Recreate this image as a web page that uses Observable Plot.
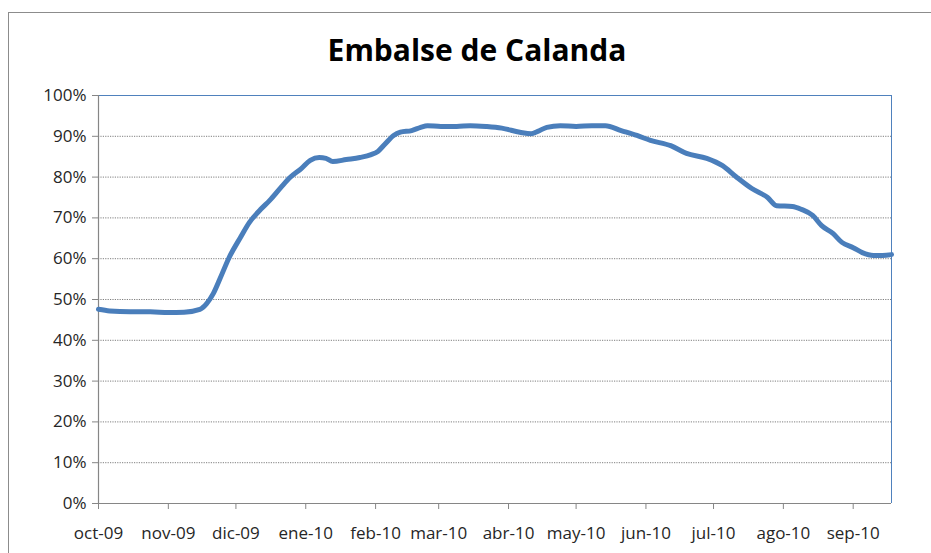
<!DOCTYPE html>
<html><head><meta charset="utf-8">
<script src="https://cdn.jsdelivr.net/npm/d3@7"></script>
<script src="https://cdn.jsdelivr.net/npm/@observablehq/plot@0.6"></script>
<style>
body{margin:0;background:#fff;}
#wrap{position:relative;width:931px;height:553px;overflow:hidden;font-family:"Open Sans",sans-serif;}
#border{position:absolute;left:8px;top:12px;width:1000px;height:1000px;border:1.5px solid #8c8c8c;}
#title{position:absolute;left:0;width:954px;top:30px;text-align:center;font-weight:bold;font-size:30px;color:#000;line-height:40px;}
#chart{position:absolute;left:0;top:0;}
</style></head>
<body>
<div id="wrap"><div id="border"></div><div id="title">Embalse de Calanda</div><div id="chart"></div></div>
<script>
const dates = ["2009-10-01","2009-10-06","2009-10-15","2009-10-24","2009-11-01","2009-11-08","2009-11-15","2009-11-18","2009-11-21","2009-11-24","2009-11-28",
"2009-12-03","2009-12-07","2009-12-12","2009-12-16","2009-12-21","2009-12-25","2009-12-30",
"2010-01-03","2010-01-07","2010-01-10","2010-01-13","2010-01-19","2010-01-25","2010-01-30",
"2010-02-02","2010-02-05","2010-02-09","2010-02-12","2010-02-17","2010-02-21","2010-02-24",
"2010-03-02","2010-03-09","2010-03-15","2010-03-22","2010-03-29",
"2010-04-06","2010-04-11","2010-04-14","2010-04-18","2010-04-24",
"2010-05-01","2010-05-08","2010-05-14","2010-05-21","2010-05-28",
"2010-06-03","2010-06-12","2010-06-19","2010-06-28",
"2010-07-05","2010-07-11","2010-07-18","2010-07-25","2010-07-29",
"2010-08-05","2010-08-09","2010-08-14","2010-08-18","2010-08-23","2010-08-27",
"2010-09-01","2010-09-05","2010-09-10","2010-09-14","2010-09-18"];
const values = [47.6,47.2,47.0,47.0,46.8,46.9,47.6,49.0,51.5,55.2,60.3,
65.2,68.9,72.1,74.3,77.5,79.9,82.1,
84.1,84.8,84.6,83.8,84.3,84.8,85.5,
86.3,88.0,90.2,91.0,91.4,92.2,92.6,
92.4,92.4,92.6,92.4,92.0,
91.0,90.6,91.2,92.2,92.6,
92.4,92.6,92.6,91.4,90.2,
89.0,87.7,85.8,84.6,
82.8,80.1,77.2,75.0,73.0,
72.8,72.1,70.6,68.1,66.2,64.0,
62.7,61.5,60.8,60.8,61.0];
const tickDates = ["2009-10-01","2009-11-01","2009-12-01","2010-01-01","2010-02-01","2010-03-01","2010-04-01","2010-05-01","2010-06-01","2010-07-01","2010-08-01","2010-09-01"];
const tickLabels = ["oct-09","nov-09","dic-09","ene-10","feb-10","mar-10","abr-10","may-10","jun-10","jul-10","ago-10","sep-10"];
const yTicks = [0,0.1,0.2,0.3,0.4,0.5,0.6,0.7,0.8,0.9,1];

const data = dates.map((d,i)=>({date:new Date(d+"T00:00:00Z"), v:values[i]/100}));
const xTicks = tickDates.map(d=>new Date(d+"T00:00:00Z"));
const xMin = data[0].date, xMax = data[data.length-1].date;

const chart = Plot.plot({
  width:931, height:553,
  marginLeft:98, marginRight:40, marginTop:95, marginBottom:50,
  style:{fontFamily:"'Open Sans', sans-serif", fontSize:"17px", color:"#262626", background:"transparent"},
  x:{type:"utc", domain:[xMin,xMax]},
  y:{domain:[0,1]},
  marks:[
    Plot.gridY(yTicks.filter(v=>v>0&&v<1),{stroke:"#7f7f7f",strokeOpacity:1,strokeWidth:1,strokeDasharray:"1.2,1.2"}),
    Plot.ruleY([1],{stroke:"#4f81bd",strokeWidth:1}),
    Plot.ruleX([xMax],{stroke:"#4f81bd",strokeWidth:1}),
    Plot.ruleX([xMin],{stroke:"#868686",strokeWidth:1.2}),
    Plot.ruleY([0],{stroke:"#868686",strokeWidth:1.2}),
    Plot.axisY({ticks:yTicks, tickFormat:d3.format(".0%"), tickSize:6, tickPadding:6, stroke:"#868686", fill:"#262626", label:null}),
    Plot.axisX({ticks:xTicks, tickFormat:(d,i)=>tickLabels[i], tickSize:6, tickPadding:17, stroke:"#868686", fill:"#262626", label:null}),
    Plot.line(data,{x:"date",y:"v",stroke:"#4a7ebb",strokeWidth:5,curve:"monotone-x",strokeLinejoin:"round",strokeLinecap:"round"})
  ]
});
document.getElementById("chart").appendChild(chart);
</script>
</body></html>
